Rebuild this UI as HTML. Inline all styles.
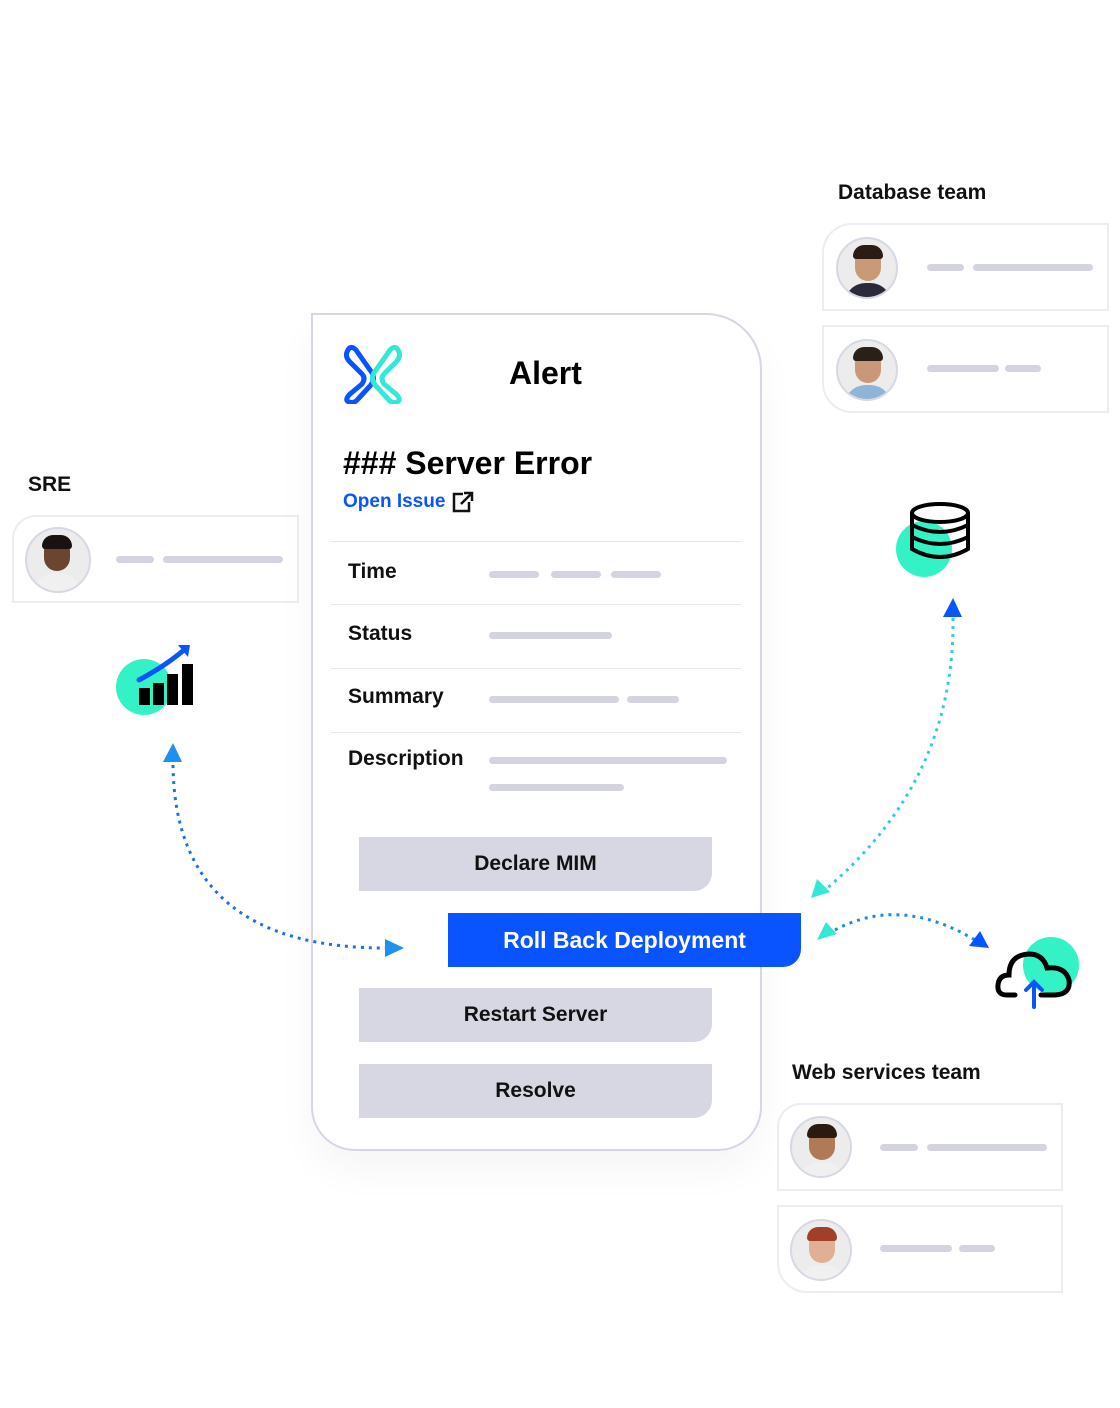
<!DOCTYPE html>
<html><head><style>
body{margin:0;width:1120px;height:1408px;background:#fff;position:relative;font-family:"Liberation Sans",Arial,sans-serif;overflow:hidden}
.a{position:absolute}
.lbl{position:absolute;font-weight:bold;font-size:21px;color:#111}
.card{position:absolute;border:2px solid #ececf3;background:#fff;box-sizing:border-box}
.bar{position:absolute;height:7px;border-radius:4px;background:#d4d4e0}
.av{position:absolute;width:62px;height:62px;border-radius:50%;border:2px solid #d8d8e4;background:#ececec;overflow:hidden;box-sizing:border-box}
.av .h{position:absolute;left:17px;top:10px;width:26px;height:32px;border-radius:13px 13px 14px 14px}
.av .b{position:absolute;left:6px;top:44px;width:48px;height:30px;border-radius:22px 22px 0 0;background:#f0f0f0}
.av .hair{position:absolute;left:15px;top:6px;width:30px;height:14px;border-radius:15px 15px 4px 4px}
.btn{position:absolute;height:54px;background:#d7d7e3;font-weight:bold;font-size:21px;color:#111;display:flex;align-items:center;justify-content:center;border-radius:0 0 18px 0;box-sizing:border-box}
.row{position:absolute;left:331px;width:410px;height:1px;background:#e6e6ee}
.rl{position:absolute;left:348px;font-weight:bold;font-size:21px;color:#111}
</style></head><body>

<div class="lbl" style="left:838px;top:181px">Database team</div>
<div class="card" style="left:822px;top:223px;width:287px;height:88px;border-radius:30px 0 0 0"></div>
<div class="av" style="left:836px;top:237px"><div class="b" style="background:#2a2a3a"></div><div class="h" style="background:#c99a78"></div><div class="hair" style="background:#2b1d16"></div></div>
<div class="bar" style="left:927px;top:264px;width:37px"></div><div class="bar" style="left:973px;top:264px;width:120px"></div>
<div class="card" style="left:822px;top:325px;width:287px;height:88px;border-radius:0 0 0 30px"></div>
<div class="av" style="left:836px;top:339px"><div class="b" style="background:#8fb4d6"></div><div class="h" style="background:#c9987a"></div><div class="hair" style="background:#2b2018"></div></div>
<div class="bar" style="left:927px;top:365px;width:72px"></div><div class="bar" style="left:1005px;top:365px;width:36px"></div>

<div class="lbl" style="left:28px;top:473px">SRE</div>
<div class="card" style="left:12px;top:515px;width:287px;height:88px;border-radius:24px 0 0 0"></div>
<div class="av" style="left:25px;top:527px;width:66px;height:66px"><div class="b"></div><div class="h" style="background:#6b4530"></div><div class="hair" style="background:#1a1210"></div></div>
<div class="bar" style="left:116px;top:556px;width:38px"></div><div class="bar" style="left:163px;top:556px;width:120px"></div>

<!-- chart icon -->
<svg class="a" style="left:110px;top:640px" width="90" height="80">
<circle cx="34" cy="47" r="28" fill="#33f3c6"/>
<rect x="29" y="48" width="11" height="17" fill="#000"/><rect x="43" y="43" width="11" height="22" fill="#000"/><rect x="57" y="34" width="11" height="31" fill="#000"/><rect x="72" y="24" width="11" height="41" fill="#000"/>
<path d="M29 40 Q55 26 74 10" stroke="#0a54ff" stroke-width="5" fill="none" stroke-linecap="round"/>
<path d="M68 5 L80 5 L78 17 Z" fill="#0a54ff"/>
</svg>

<!-- main card -->
<div class="a" style="left:311px;top:313px;width:451px;height:838px;border:2px solid #d6d6e4;border-radius:0 56px 44px 44px;box-sizing:border-box;background:#fff;box-shadow:0 20px 40px rgba(0,0,0,0.04)"></div>
<svg class="a" style="left:344px;top:342px" width="60" height="62">
<path d="M12 8 Q6 2 3 10 Q1 15 6 20 L18 32 Q22 36 18 42 L6 52 Q0 58 5 60 Q10 62 14 57 L26 44 Q33 36 26 28 Z" fill="none" stroke="#0a54ff" stroke-width="5" stroke-linejoin="round"/>
<path d="M46 8 Q52 2 55 10 Q57 15 52 20 L40 32 Q36 36 40 42 L52 52 Q58 58 53 60 Q48 62 44 57 L32 44 Q25 36 32 28 Z" fill="none" stroke="#33e8d6" stroke-width="5" stroke-linejoin="round"/>
</svg>
<div class="a" style="left:509px;top:355px;font-weight:bold;font-size:32px;color:#000">Alert</div>
<div class="a" style="left:343px;top:445px;font-weight:bold;font-size:32px;color:#000">### Server Error</div>
<div class="a" style="left:343px;top:491px;font-weight:bold;font-size:19px;color:#0a54ff">Open Issue</div>
<svg class="a" style="left:451px;top:490px" width="24" height="24"><path d="M12 4 H3 V21 H18 V12" stroke="#111" stroke-width="2.5" fill="none"/><path d="M10 14 L20 4 M13 3 H21 V11" stroke="#111" stroke-width="2.5" fill="none"/></svg>

<div class="row" style="top:541px"></div><div class="row" style="top:604px"></div><div class="row" style="top:668px"></div><div class="row" style="top:732px"></div>
<div class="rl" style="top:560px">Time</div>
<div class="bar" style="left:489px;top:571px;width:50px"></div><div class="bar" style="left:551px;top:571px;width:50px"></div><div class="bar" style="left:611px;top:571px;width:50px"></div>
<div class="rl" style="top:622px">Status</div>
<div class="bar" style="left:489px;top:632px;width:123px"></div>
<div class="rl" style="top:685px">Summary</div>
<div class="bar" style="left:489px;top:696px;width:130px"></div><div class="bar" style="left:627px;top:696px;width:52px"></div>
<div class="rl" style="top:747px">Description</div>
<div class="bar" style="left:489px;top:757px;width:238px"></div><div class="bar" style="left:489px;top:784px;width:135px"></div>

<div class="btn" style="left:359px;top:837px;width:353px">Declare MIM</div>
<div class="btn" style="left:448px;top:913px;width:353px;background:#0a54ff;color:#fff;font-size:23px">Roll Back Deployment</div>
<div class="btn" style="left:359px;top:988px;width:353px">Restart Server</div>
<div class="btn" style="left:359px;top:1064px;width:353px">Resolve</div>

<!-- db icon -->
<svg class="a" style="left:890px;top:495px" width="90" height="90">
<circle cx="34" cy="54" r="28" fill="#33f3c6"/>
<g fill="none" stroke="#000" stroke-width="4">
<ellipse cx="50" cy="18" rx="28" ry="9" fill="#fff"/>
<path d="M22 18 V54 Q50 70 78 54 V18"/>
<path d="M22 30 Q50 44 78 30 M22 42 Q50 56 78 42"/>
</g></svg>

<!-- cloud -->
<svg class="a" style="left:995px;top:930px" width="90" height="85">
<circle cx="56" cy="35" r="28" fill="#33f3c6"/>
<path d="M20 65 H12 Q2 65 3 55 Q4 45 14 45 Q14 25 34 24 Q48 24 52 38 Q70 36 74 50 Q76 64 60 65 H46" fill="none" stroke="#000" stroke-width="5" stroke-linecap="round"/>
<path d="M39 77 V53 M31 60 L39 52 L47 60" fill="none" stroke="#0a54ff" stroke-width="4" stroke-linecap="round"/>
</svg>

<!-- connectors -->
<svg class="a" style="left:0;top:0" width="1120" height="1408">
<path d="M173 765 Q175 950 390 948" stroke="#1e6fe8" stroke-width="3" stroke-dasharray="3 5" fill="none"/>
<path d="M163 762 L173 743 L182 762 Z" fill="#1e90f0"/>
<path d="M385 939 L404 948 L385 957 Z" fill="#1e90f0"/>
<path d="M953 618 Q955 780 825 890" stroke="#38c8e8" stroke-width="3" stroke-dasharray="3 5" fill="none"/>
<path d="M943 617 L953 598 L962 617 Z" fill="#0a54ff"/>
<path d="M811 898 L817 879 L830 892 Z" fill="#33e8d6"/>
<path d="M835 930 Q900 895 975 940" stroke="#1e8ae8" stroke-width="3" stroke-dasharray="3 5" fill="none"/>
<path d="M817 940 L826 922 L837 934 Z" fill="#33e8d6"/>
<path d="M969 946 L980 931 L989 948 Z" fill="#0a54ff"/>
</svg>

<div class="lbl" style="left:792px;top:1061px">Web services team</div>
<div class="card" style="left:777px;top:1103px;width:286px;height:88px;border-radius:24px 0 0 0"></div>
<div class="av" style="left:790px;top:1116px"><div class="b"></div><div class="h" style="background:#b07a58"></div><div class="hair" style="background:#2a1a10"></div></div>
<div class="bar" style="left:880px;top:1144px;width:38px"></div><div class="bar" style="left:927px;top:1144px;width:120px"></div>
<div class="card" style="left:777px;top:1205px;width:286px;height:88px;border-radius:0 0 0 30px"></div>
<div class="av" style="left:790px;top:1219px"><div class="b"></div><div class="h" style="background:#e0b096"></div><div class="hair" style="background:#a0402a"></div></div>
<div class="bar" style="left:880px;top:1245px;width:72px"></div><div class="bar" style="left:959px;top:1245px;width:36px"></div>
</body></html>
